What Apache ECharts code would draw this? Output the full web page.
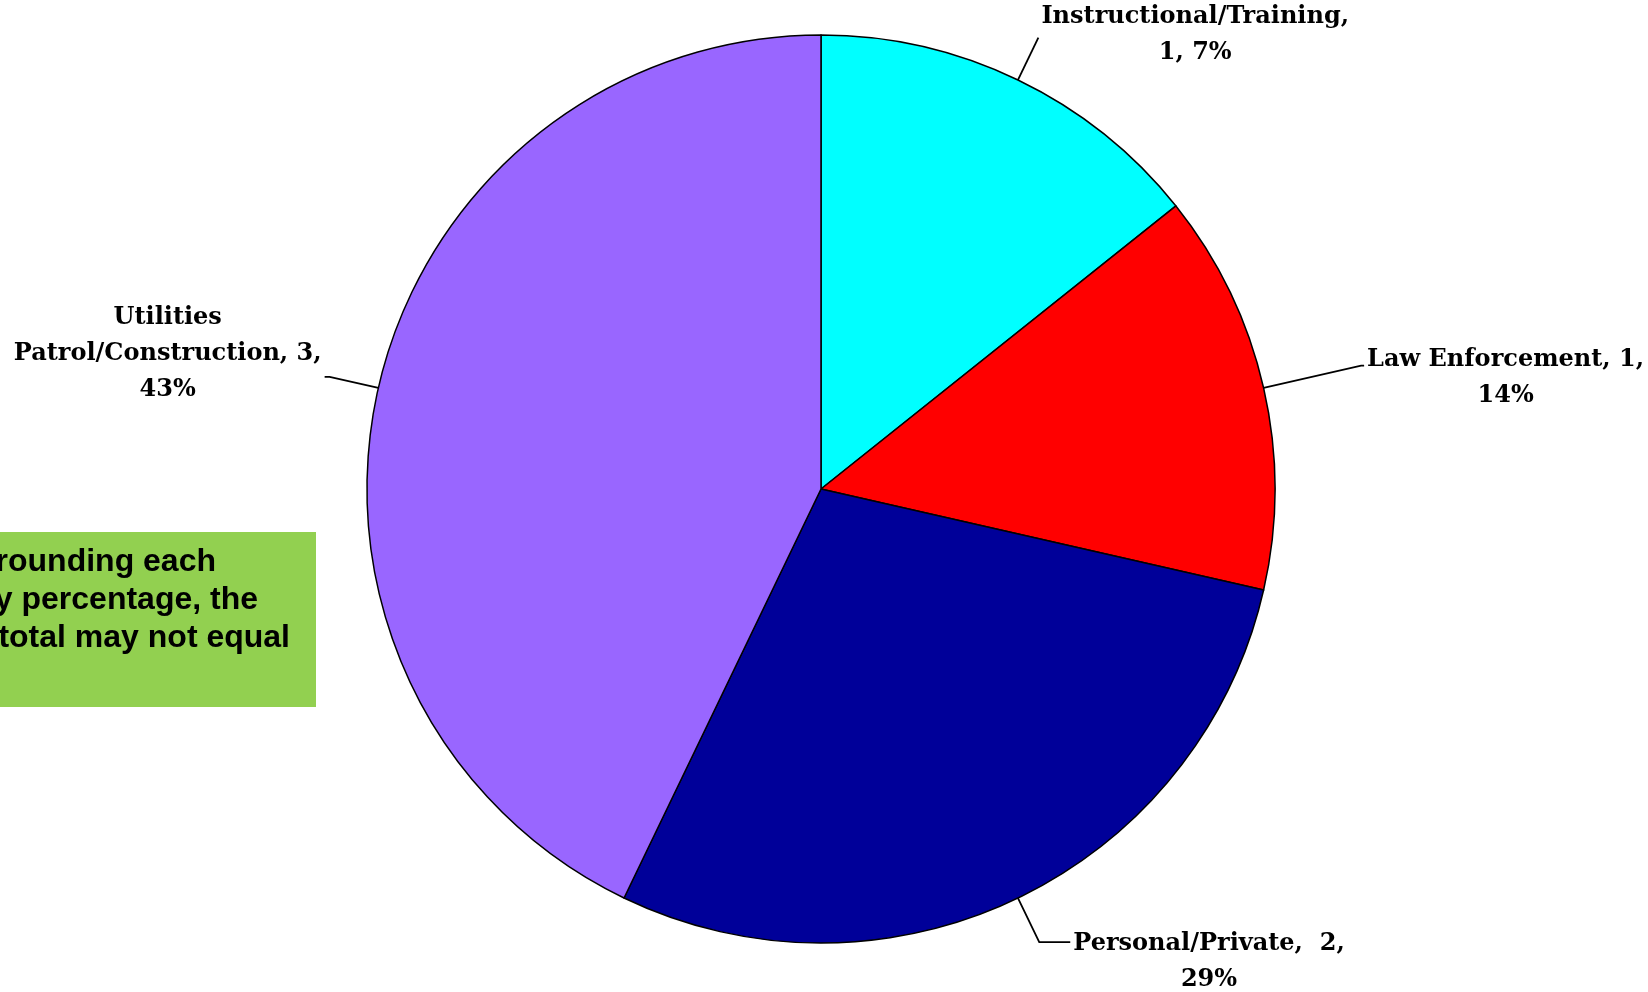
<!DOCTYPE html>
<html>
<head>
<meta charset="utf-8">
<script src="https://cdn.jsdelivr.net/npm/echarts@6/dist/echarts.min.js"></script>
<style>
  html, body { margin: 0; padding: 0; background: #fff; }
</style>
</head>
<body>
<div id="main" style="width: 1648px;height:992px;"></div>
<script>
// data
var categories = ["Instructional/Training", "Law Enforcement", "Personal/Private", "Utilities Patrol/Construction"];
var counts = [1, 1, 2, 3];
var percentLabels = ["7%", "14%", "29%", "43%"];
// label text split into lines the way the picture shows them
var labelLines = [
  ["Instructional/Training,", "1, 7%"],
  ["Law Enforcement, 1,", "14%"],
  ["Personal/Private,  2,", "29%"],
  ["Utilities", "Patrol/Construction, 3,", "43%"]
];
var noteLines = ["rounding each", "y percentage, the", "total may not equal"];

var colors = ["#00FFFF", "#FF0000", "#000099", "#9966FF"];
// leader line lengths + padding to shift text off the line end
var labelTweaks = [
  { length: 47, length2: 0, padding: [0, 0, 6, 0] },
  { length: 100, length2: 3, padding: [24, 0, 0, 0] },
  { length: 49, length2: 31, padding: [40, 0, 0, 0] },
  { length: 50, length2: 5, padding: [0, 0, 46, 0] }
];

var myChart = echarts.init(document.getElementById("main"));

var pieData = categories.map(function (name, i) {
  return {
    name: name,
    value: counts[i],
    itemStyle: { color: colors[i] },
    labelLine: { length: labelTweaks[i].length, length2: labelTweaks[i].length2 },
    label: { padding: labelTweaks[i].padding }
  };
});

var serifFont = "'DejaVu Serif', 'Liberation Serif', serif";
var noteFont = "bold 32px 'Liberation Sans', Arial";

var option = {
  backgroundColor: "#fff",
  animation: false,
  graphic: [
    {
      type: "rect",
      shape: { x: 0, y: 532, width: 316, height: 175 },
      style: { fill: "#92D050" }
    },
    {
      type: "text", x: 216, y: 562,
      style: { text: noteLines[0], fill: "#000", font: noteFont, textAlign: "right", textVerticalAlign: "middle" }
    },
    {
      type: "text", x: 258, y: 600,
      style: { text: noteLines[1], fill: "#000", font: noteFont, textAlign: "right", textVerticalAlign: "middle" }
    },
    {
      type: "text", x: 290, y: 638,
      style: { text: noteLines[2], fill: "#000", font: noteFont, textAlign: "right", textVerticalAlign: "middle" }
    }
  ],
  series: [
    {
      type: "pie",
      center: [821, 489],
      radius: 454,
      startAngle: 90,
      clockwise: true,
      avoidLabelOverlap: false,
      itemStyle: { borderColor: "#000", borderWidth: 1.5 },
      emphasis: { disabled: true },
      label: {
        show: true,
        position: "outside",
        distanceToLabelLine: 3,
        formatter: function (p) {
          return labelLines[p.dataIndex].map(function (t) { return "{c|" + t + "}"; }).join("\n");
        },
        rich: {
          c: {
            align: "center",
            fontFamily: serifFont,
            fontWeight: "bold",
            fontSize: 24,
            lineHeight: 36,
            color: "#000"
          }
        }
      },
      labelLine: {
        show: true,
        lineStyle: { color: "#000", width: 1.8 }
      },
      data: pieData
    }
  ]
};

myChart.setOption(option);
</script>
</body>
</html>
